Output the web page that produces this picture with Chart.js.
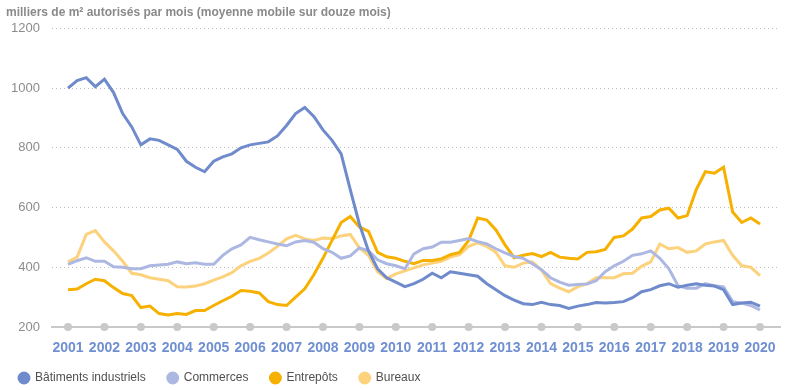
<!DOCTYPE html>
<html>
<head>
<meta charset="utf-8">
<script src="https://cdn.jsdelivr.net/npm/chart.js@4.4.1/dist/chart.umd.min.js"></script>
<style>
  html, body { margin: 0; padding: 0; background: #fff; }
  #wrap { width: 800px; height: 390px; }
</style>
</head>
<body>
<div id="wrap"><canvas id="myChart"></canvas></div>
<script>
// quarterly readings, first point = january 2001, last = january 2020
const years = [2001, 2002, 2003, 2004, 2005, 2006, 2007, 2008, 2009, 2010,
  2011, 2012, 2013, 2014, 2015, 2016, 2017, 2018, 2019, 2020];
const yTicks = [200, 400, 600, 800, 1000, 1200];

const batiments = [1000,1025,1035,1005,1030,985,915,870,810,830,
  825,810,795,755,735,720,755,770,780,800,
  810,815,820,840,875,915,935,905,860,825,
  780,660,545,455,395,365,350,335,345,360,
  380,365,385,380,375,370,345,325,305,290,
  278,275,283,275,272,262,270,275,282,280,
  282,285,298,318,325,338,345,333,340,345,
  340,337,325,275,280,283,270];

const commerces = [410,422,432,420,420,402,400,395,395,405,
  408,410,418,412,415,410,410,440,462,475,
  500,492,485,478,472,485,490,484,462,450,
  430,438,465,455,425,412,405,395,445,462,
  468,484,484,490,496,486,478,462,448,436,
  430,412,392,365,350,340,342,344,355,385,
  405,420,440,445,455,430,395,338,330,330,
  345,338,334,285,280,272,257];

const entrepots = [325,327,345,360,355,332,312,305,265,270,
  245,240,245,242,255,255,272,288,303,322,
  320,314,285,275,272,300,328,375,430,490,
  550,570,535,520,450,435,430,420,412,423,
  423,428,442,450,490,565,558,525,475,432,
  440,446,436,450,434,430,428,450,452,460,
  500,505,528,565,570,592,598,565,573,660,
  720,715,735,585,550,565,545];

const bureaux = [418,434,510,523,485,455,420,380,375,365,
  360,355,335,334,337,345,357,368,382,405,
  420,430,448,470,495,507,495,490,498,496,
  505,510,465,440,385,362,378,388,398,408,
  414,420,434,442,470,482,470,450,405,400,
  414,418,390,345,330,318,335,345,365,365,
  365,378,380,403,418,478,462,466,450,455,
  478,485,490,440,405,400,372];

const toPoints = arr => arr.map((v, i) => ({ x: 2001 + i / 4, y: v }));

const series = [
  { label: 'Bâtiments industriels', values: batiments, color: '#6f8bcb' },
  { label: 'Commerces', values: commerces, color: '#adb8e2' },
  { label: 'Entrepôts', values: entrepots, color: '#f6b100' },
  { label: 'Bureaux', values: bureaux, color: '#fdd27c' },
];

const datasets = series.map(s => ({
  label: s.label,
  data: toPoints(s.values),
  borderColor: s.color,
  backgroundColor: s.color,
  borderWidth: 3,
  pointRadius: 0,
  tension: 0,
  fill: false
}));

// grey dots sitting on the axis line at every year
datasets.push({
  label: '',
  data: years.map(y => ({ x: y, y: 200 })),
  showLine: false,
  pointRadius: 4,
  pointBackgroundColor: '#c9c9c9',
  pointBorderWidth: 0,
  clip: false
});

const legendNudge = {
  id: 'legendNudge',
  afterLayout(chart) {
    chart.legend.left -= 9;
    chart.legend.top -= 8;
  }
};

const config = {
  type: 'line',
  data: { datasets: datasets },
  plugins: [legendNudge],
  options: {
    responsive: true,
    maintainAspectRatio: false,
    animation: false,
    layout: { padding: { left: 6, right: 20, top: 0, bottom: -12 } },
    plugins: {
      title: {
        display: true,
        text: 'milliers de m² autorisés par mois (moyenne mobile sur douze mois)',
        align: 'start',
        color: '#8a8a8a',
        font: { family: 'Liberation Sans', size: 12, weight: 'bold' },
        padding: { top: 5, bottom: 9 }
      },
      legend: {
        position: 'bottom',
        align: 'start',
        labels: {
          filter: item => item.text !== '',
          usePointStyle: true,
          pointStyle: 'circle',
          boxWidth: 10,
          boxHeight: 7,
          padding: 22,
          color: '#505050',
          font: { family: 'Liberation Sans', size: 12 }
        }
      },
      tooltip: { enabled: false }
    },
    scales: {
      x: {
        type: 'linear',
        min: 2000.56,
        max: 2020.55,
        afterBuildTicks: axis => { axis.ticks = years.map(v => ({ value: v })); },
        afterFit: axis => { axis.height = 31; },
        grid: { display: false, drawTicks: false },
        border: { display: true, color: '#c9c9c9', width: 2 },
        ticks: {
          padding: 13,
          color: '#6f8fd0',
          font: { family: 'Liberation Sans', size: 14, weight: 'bold' },
          callback: v => String(v),
          maxRotation: 0
        }
      },
      y: {
        min: 200,
        max: 1200,
        afterBuildTicks: axis => { axis.ticks = yTicks.map(v => ({ value: v })); },
        afterFit: axis => { axis.width = 46; },
        grid: { color: '#bdbdbd', lineWidth: 1, drawTicks: false },
        border: { display: false, dash: [1, 3] },
        ticks: {
          padding: 12,
          color: '#8c8c8c',
          font: { family: 'Liberation Sans', size: 13 },
          callback: v => String(v)
        }
      }
    }
  }
};

window.addEventListener('DOMContentLoaded', () => {
  new Chart(document.getElementById('myChart'), config);
});
</script>
</body>
</html>
